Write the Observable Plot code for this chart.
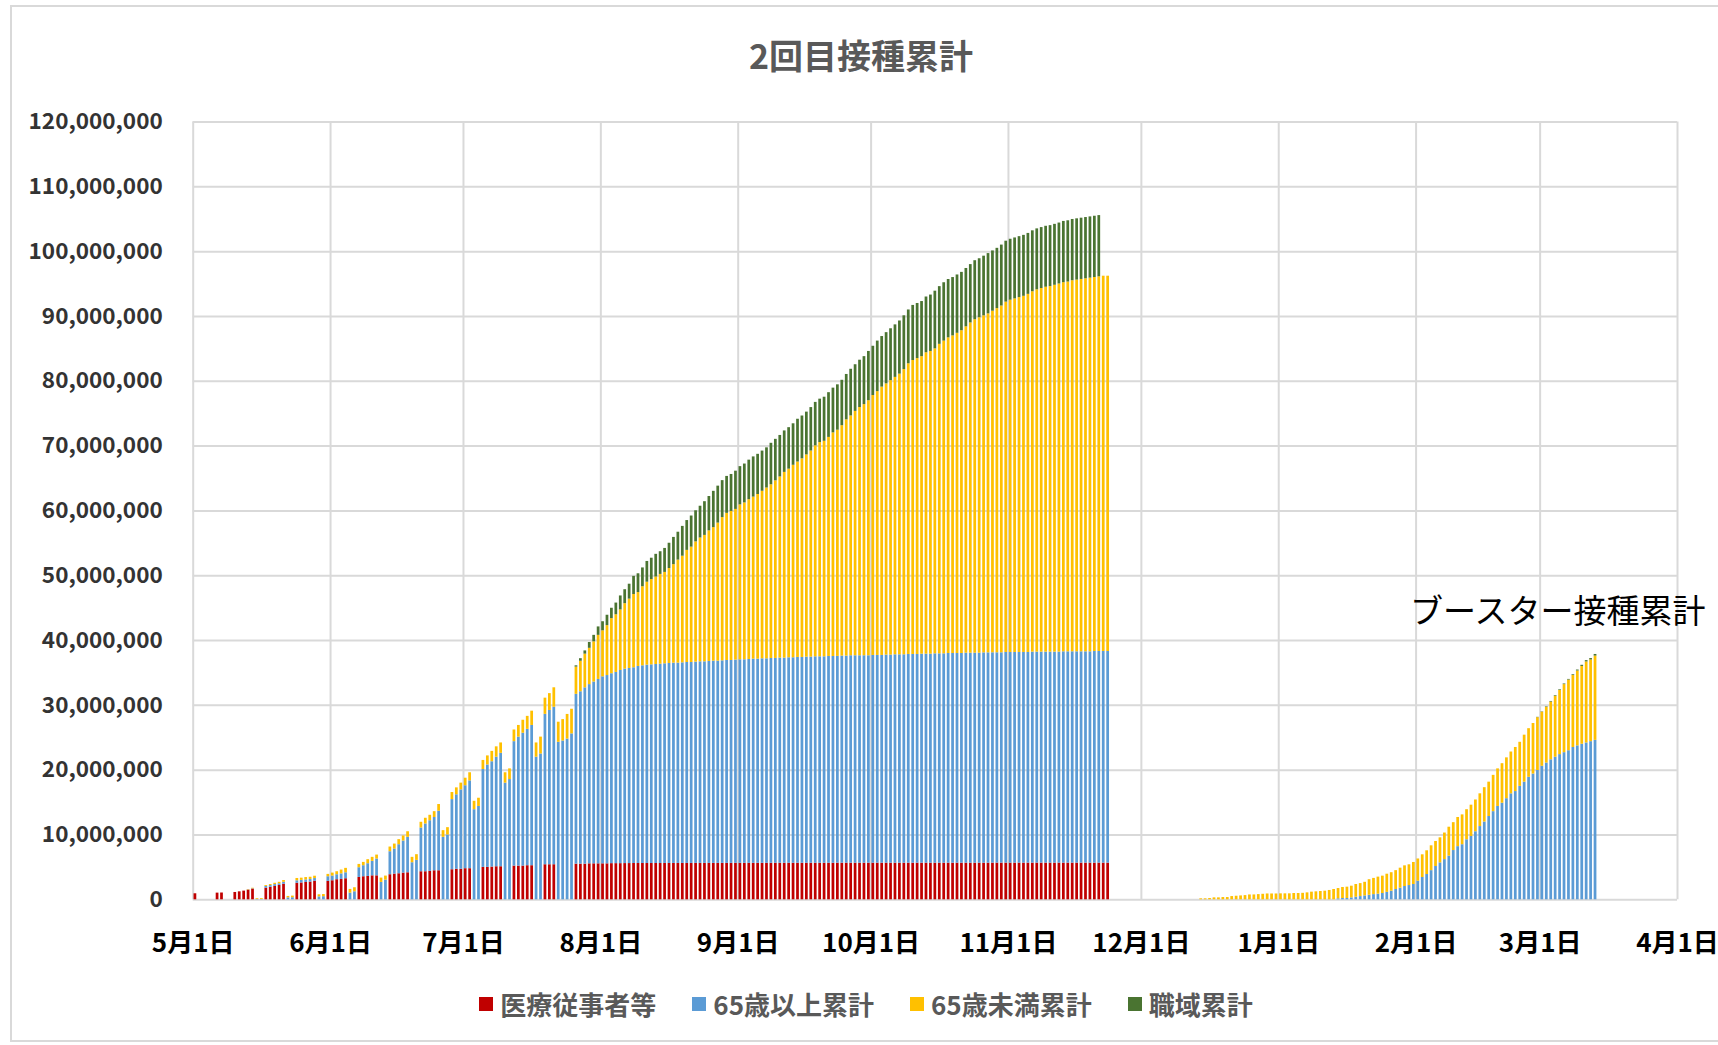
<!DOCTYPE html>
<html>
<head>
<meta charset="utf-8">
<script src="https://cdn.jsdelivr.net/npm/d3@7"></script>
<script src="https://cdn.jsdelivr.net/npm/@observablehq/plot@0.6"></script>
<style>
  html, body { margin: 0; padding: 0; background: #fff; }
  body { font-family: "Noto Sans CJK JP", "Noto Sans", sans-serif; }
  #wrap { position: relative; width: 1718px; height: 1045px; overflow: hidden; }
  #frame { position: absolute; left: 10px; top: 5px; width: 1740px; height: 1037px; border: 2px solid #d9d9d9; box-sizing: border-box; pointer-events: none; }
  #title { position: relative; height: 64px; padding-top: 36px; line-height: 38px; text-align: center; font-size: 34px; font-weight: bold; color: #595959; padding-left: 4px; }
  #chart { position: relative; height: 870px; }
  #legend { position: relative; height: 75px; padding-top: 22px; box-sizing: border-box; display: flex; justify-content: center; align-items: flex-start; gap: 36px; font-size: 26px; font-weight: bold; color: #595959; line-height: 24px; padding-left: 14px; }
  .item { display: flex; align-items: center; gap: 7px; height: 24px; }
  .sw { width: 14px; height: 14px; display: inline-block; }
  #chart svg [aria-label^="x-axis"] text { font-size: 26px; font-weight: bold; fill: #000; font-family: "Noto Sans CJK JP", sans-serif; }
  #chart svg [aria-label^="y-axis"] text { font-size: 22.5px; font-weight: bold; fill: #333; font-family: "Noto Sans CJK JP", sans-serif; }
</style>
</head>
<body>
<div id="wrap">
  <div id="frame"></div>
  <div id="title">2回目接種累計</div>
  <div id="chart"></div>
  <div id="legend"></div>
</div>
<script>
// ---- Data (values in millions of people) ----
const seriesNames = ["医療従事者等", "65歳以上累計", "65歳未満累計", "職域累計"];
const seriesColors = ["#C00000", "#5B9BD5", "#FFC000", "#4A7431"];

// 2nd dose, one entry per day starting 2021-05-01 (null = no bar)
const secondStart = "2021-05-01";
const med2 = [
  0.93, null, null, null, null, 1.03, 1.05, null, null, 1.13,
  1.23, 1.34, 1.49, 1.65, 0, 0, 1.8, 1.93, 2.06, 2.22,
  2.4, 0, 0, 2.55, 2.6, 2.67, 2.73, 2.86, 0, 0,
  2.84, 2.94, 3.1, 3.14, 3.25, 0, 0, 3.45, 3.56, 3.6,
  3.7, 3.7, 0, 0, 3.87, 3.97, 4.02, 4.12, 4.17, 0,
  0, 4.33, 4.33, 4.38, 4.48, 4.48, 0, 0, 4.64, 4.7,
  4.7, 4.8, 4.8, 0, 0, 5.0, 5.0, 5.05, 5.1, 5.1,
  0, 0, 5.2, 5.2, 5.2, 5.26, 5.26, 0, 0, 5.41,
  5.41, 5.41, 0, 0, 0, 0, 5.5, 5.5, 5.5, 5.55,
  5.55, 5.55, 5.55, 5.55, 5.58, 5.58, 5.58, 5.59, 5.59, 5.6,
  5.6, 5.6, 5.6, 5.6, 5.6, 5.6, 5.61, 5.61, 5.61, 5.61,
  5.61, 5.61, 5.61, 5.62, 5.62, 5.62, 5.62, 5.62, 5.62, 5.62,
  5.62, 5.62, 5.63, 5.63, 5.63, 5.63, 5.63, 5.63, 5.63, 5.63,
  5.63, 5.64, 5.64, 5.64, 5.64, 5.64, 5.64, 5.64, 5.64, 5.64,
  5.64, 5.64, 5.64, 5.64, 5.64, 5.65, 5.65, 5.65, 5.65, 5.65,
  5.65, 5.65, 5.65, 5.65, 5.65, 5.65, 5.65, 5.65, 5.65, 5.65,
  5.65, 5.65, 5.65, 5.65, 5.65, 5.65, 5.65, 5.65, 5.65, 5.65,
  5.65, 5.65, 5.65, 5.65, 5.65, 5.65, 5.65, 5.65, 5.65, 5.65,
  5.66, 5.66, 5.66, 5.66, 5.66, 5.66, 5.66, 5.66, 5.66, 5.66,
  5.66, 5.66, 5.66, 5.66, 5.66, 5.66, 5.66, 5.66, 5.66, 5.66,
  5.66, 5.66, 5.66, 5.66, 5.66, 5.66, 5.66
];
const over65_2 = [
  0, null, null, null, null, 0, 0, null, null, 0,
  0, 0, 0.03, 0.05, 0.06, 0.07, 0.26, 0.27, 0.29, 0.26,
  0.3, 0.3, 0.32, 0.38, 0.4, 0.4, 0.4, 0.42, 0.45, 0.48,
  0.72, 0.72, 0.77, 0.86, 0.92, 1.03, 1.24, 1.5, 1.7, 1.97,
  2.23, 2.59, 2.68, 3.04, 3.55, 3.87, 4.48, 4.95, 5.47, 5.72,
  6.08, 6.75, 7.37, 7.82, 8.22, 9.18, 9.64, 10.0, 10.82, 11.5,
  12.26, 12.8, 13.55, 13.9, 14.4, 15.1, 15.8, 16.25, 16.9, 17.5,
  18.0, 18.55, 19.2, 19.9, 20.5, 21.04, 21.64, 22.0, 22.5, 23.2,
  23.8, 24.3, 24.3, 24.5, 24.8, 25.6, 26.2, 26.6, 27.2, 27.65,
  28.05, 28.45, 28.85, 29.05, 29.3, 29.5, 29.8, 30.0, 30.1, 30.2,
  30.4, 30.5, 30.6, 30.65, 30.7, 30.75, 30.8, 30.85, 30.9, 30.9,
  30.95, 31.0, 31.0, 31.05, 31.1, 31.1, 31.15, 31.2, 31.2, 31.25,
  31.3, 31.3, 31.35, 31.4, 31.4, 31.45, 31.5, 31.5, 31.55, 31.55,
  31.6, 31.6, 31.65, 31.65, 31.7, 31.7, 31.75, 31.75, 31.8, 31.8,
  31.85, 31.85, 31.85, 31.9, 31.9, 31.9, 31.95, 31.95, 32.0, 32.0,
  32.0, 32.0, 32.0, 32.05, 32.05, 32.05, 32.1, 32.1, 32.15, 32.15,
  32.15, 32.2, 32.2, 32.2, 32.25, 32.25, 32.25, 32.3, 32.3, 32.3,
  32.35, 32.35, 32.35, 32.35, 32.4, 32.4, 32.4, 32.4, 32.45, 32.45,
  32.45, 32.45, 32.45, 32.5, 32.5, 32.5, 32.5, 32.5, 32.5, 32.55,
  32.55, 32.55, 32.55, 32.55, 32.55, 32.55, 32.6, 32.6, 32.6, 32.6,
  32.6, 32.6, 32.6, 32.65, 32.65, 32.65, 32.65
];
const under65_2 = [
  0, null, null, null, null, 0, 0, null, null, 0,
  0, 0, 0.05, 0.08, 0.12, 0.13, 0.14, 0.16, 0.2, 0.22,
  0.27, 0.22, 0.25, 0.36, 0.34, 0.36, 0.35, 0.36, 0.32, 0.33,
  0.36, 0.46, 0.46, 0.59, 0.68, 0.57, 0.62, 0.51, 0.51, 0.62,
  0.62, 0.61, 0.67, 0.62, 0.72, 0.76, 0.78, 0.78, 0.86, 0.83,
  0.88, 0.88, 0.88, 0.84, 0.9, 1.04, 1.03, 1.13, 1.09, 1.07,
  1.04, 1.16, 1.25, 1.3, 1.27, 1.4, 1.4, 1.6, 1.6, 1.6,
  1.6, 1.65, 1.8, 1.8, 2.0, 2.0, 2.2, 2.2, 2.6, 2.5,
  2.6, 3.0, 3.1, 3.3, 3.8, 3.8, 4.2, 4.7, 5.2, 5.6,
  6.2, 6.8, 7.1, 7.7, 8.5, 8.9, 9.35, 10.1, 10.7, 11.3,
  11.4, 12.2, 12.8, 13.15, 13.5, 13.85, 14.1, 14.65, 15.2, 15.9,
  16.45, 17.3, 17.8, 18.55, 19.1, 19.5, 20.15, 20.6, 21.3, 22.1,
  22.7, 23.0, 23.25, 23.9, 24.2, 24.65, 25.0, 25.4, 25.85, 26.35,
  26.8, 27.4, 27.95, 28.65, 29.1, 29.7, 30.15, 30.65, 31.2, 31.8,
  32.55, 33.05, 33.25, 33.8, 34.5, 34.9, 35.55, 36.45, 37.0, 37.7,
  38.3, 38.75, 39.35, 40.1, 40.7, 41.4, 41.85, 42.35, 42.8, 43.3,
  44.0, 44.85, 45.35, 45.65, 45.9, 46.5, 46.7, 47.05, 47.75, 48.25,
  48.7, 49.0, 49.4, 49.8, 50.35, 50.95, 51.45, 51.75, 52.0, 52.3,
  52.7, 53.1, 53.5, 54.05, 54.35, 54.55, 54.75, 54.95, 55.25, 55.6,
  55.9, 56.1, 56.3, 56.4, 56.6, 56.8, 56.95, 57.05, 57.25, 57.35,
  57.45, 57.55, 57.65, 57.7, 57.8, 57.9, 57.9
];
const work2 = [
  0, null, null, null, null, 0, 0, null, null, 0,
  0, 0, 0, 0, 0, 0, 0, 0, 0, 0,
  0, 0, 0, 0, 0, 0, 0, 0, 0, 0,
  0, 0, 0, 0, 0, 0, 0, 0, 0, 0,
  0, 0, 0, 0, 0, 0, 0, 0, 0, 0,
  0, 0, 0, 0, 0, 0, 0, 0, 0, 0,
  0, 0, 0, 0, 0, 0, 0, 0, 0, 0,
  0, 0, 0, 0, 0, 0, 0, 0, 0, 0,
  0, 0, 0, 0, 0, 0, 0.2, 0.4, 0.5, 0.9,
  1.0, 1.3, 1.4, 1.6, 1.6, 1.8, 2.15, 2.15, 2.3, 2.8,
  2.9, 2.9, 3.2, 3.3, 3.5, 3.5, 3.7, 3.9, 4.2, 4.3,
  4.6, 4.6, 4.8, 4.8, 4.9, 5.2, 5.3, 5.6, 5.7, 5.7,
  5.7, 5.7, 5.9, 5.9, 6.0, 6.1, 6.2, 6.2, 6.2, 6.2,
  6.4, 6.4, 6.4, 6.4, 6.4, 6.4, 6.6, 6.6, 6.6, 6.7,
  6.7, 6.7, 6.8, 6.9, 6.9, 7.0, 7.0, 7.0, 7.2, 7.2,
  7.3, 7.4, 7.6, 7.6, 7.8, 7.8, 7.9, 8.0, 8.1, 8.2,
  8.3, 8.3, 8.5, 8.5, 8.5, 8.6, 8.7, 8.9, 8.9, 9.0,
  9.0, 9.0, 9.0, 9.0, 9.0, 9.0, 9.1, 9.1, 9.2, 9.3,
  9.3, 9.3, 9.4, 9.4, 9.4, 9.4, 9.4, 9.4, 9.4, 9.4,
  9.4, 9.4, 9.4, 9.4, 9.4, 9.4, 9.45, 9.45, 9.45, 9.45,
  9.45, 9.45, 9.45, 9.45, 9.45, 0, 0
];

// Booster, one entry per day starting 2021-12-14
const boosterStart = "2021-12-14";
const med_b = [
  null, null, null, null, null, null, null, null, null, null,
  null, null, null, null, null, null, null, null, null, null,
  null, null, null, null, null, null, null, null, null, null,
  null, null, null, null, null, null, null, null, null, null,
  null, null, null, null, null, null, null, null, null, null,
  null, null, null, null, null, null, null, null, null, null,
  null, null, null, null, null, null, null, null, null, null,
  null, null, null, null, null, null, null, null, null, null,
  null, null, null, null, null, null, null, null, null, null
];
const over65_b = [
  0, 0, 0, 0, 0, 0, 0, 0, 0, 0,
  0, 0, 0, 0, 0, 0, 0, 0, 0, 0,
  0, 0, 0, 0, 0, 0, 0, 0, 0, 0,
  0, 0.15, 0.2, 0.2, 0.3, 0.4, 0.5, 0.6, 0.7, 0.8,
  0.87, 0.97, 1.15, 1.33, 1.59, 1.8, 2.05, 2.2, 2.36, 2.87,
  3.44, 3.9, 4.5, 5.14, 5.7, 6.2, 6.74, 7.6, 8.2, 8.5,
  9.26, 9.77, 10.5, 11.3, 12.0, 12.85, 13.6, 14.4, 14.9, 15.6,
  16.35, 16.7, 17.5, 18.15, 18.9, 19.4, 19.95, 20.6, 21.1, 21.6,
  22.0, 22.4, 22.7, 23.0, 23.5, 23.75, 24.0, 24.2, 24.4, 24.6
];
const under65_b = [
  0.15, 0.15, 0.2, 0.3, 0.3, 0.35, 0.35, 0.5, 0.55, 0.6,
  0.65, 0.75, 0.75, 0.8, 0.85, 0.9, 0.9, 0.9, 0.92, 0.92,
  0.92, 0.97, 0.97, 1.0, 1.07, 1.18, 1.23, 1.28, 1.33, 1.44,
  1.59, 1.59, 1.7, 1.75, 1.8, 1.96, 2.0, 2.1, 2.4, 2.5,
  2.63, 2.68, 2.8, 2.85, 2.91, 3.08, 3.19, 3.2, 3.4, 3.43,
  3.5, 3.66, 3.83, 3.86, 3.86, 4.1, 4.46, 4.3, 4.5, 4.6,
  4.64, 4.83, 4.9, 5.05, 5.3, 5.3, 5.6, 5.8, 6.1, 6.3,
  6.45, 6.8, 6.8, 7.25, 7.5, 7.8, 8.15, 8.35, 8.6, 8.9,
  9.4, 9.9, 10.5, 10.9, 11.1, 11.55, 12.0, 12.5, 12.6, 13.0
];
const work_b = [
  0, 0, 0, 0, 0, 0, 0, 0, 0, 0,
  0, 0, 0, 0, 0, 0, 0, 0, 0, 0,
  0, 0, 0, 0, 0, 0, 0, 0, 0, 0,
  0, 0, 0, 0, 0, 0, 0, 0, 0, 0,
  0, 0, 0, 0, 0, 0, 0, 0, 0, 0,
  0, 0, 0, 0, 0, 0, 0, 0, 0, 0,
  0, 0, 0, 0, 0, 0, 0, 0, 0, 0,
  0, 0, 0, 0, 0, 0, 0.05, 0.05, 0.08, 0.1,
  0.1, 0.1, 0.1, 0.1, 0.12, 0.15, 0.18, 0.2, 0.22, 0.25
];

const yTicks = [0, 10, 20, 30, 40, 50, 60, 70, 80, 90, 100, 110, 120];
const xTickLabels = ["2021-05-01","2021-06-01","2021-07-01","2021-08-01","2021-09-01","2021-10-01",
  "2021-11-01","2021-12-01","2022-01-01","2022-02-01","2022-03-01","2022-04-01"];
const boosterLabel = "ブースター接種累計";

// ---- Build long table ----
const DAY = 864e5;
const rows = [];
function addSegment(startStr, arrays) {
  const t0 = Date.parse(startStr + "T00:00:00Z");
  arrays[1].forEach((_, i) => {
    arrays.forEach((arr, k) => {
      const v = arr[i];
      if (v == null) return;
      rows.push({x1: new Date(t0 + i * DAY), x2: new Date(t0 + (i + 1) * DAY), series: seriesNames[k], value: v});
    });
  });
}
addSegment(secondStart, [med2, over65_2, under65_2, work2]);
addSegment(boosterStart, [med_b, over65_b, under65_b, work_b]);

const xTicks = xTickLabels.map(s => new Date(s + "T00:00:00Z"));

const chart = Plot.plot({
  width: 1718,
  height: 870,
  marginLeft: 192.7,
  marginRight: 41,
  marginTop: 21.5,
  marginBottom: 70.7,
  style: {background: "transparent", overflow: "visible"},
  x: {type: "utc", domain: [xTicks[0], xTicks[xTicks.length - 1]], ticks: xTicks, tickSize: 0, tickPadding: 34,
      tickFormat: d => `${d.getUTCMonth() + 1}月${d.getUTCDate()}日`, label: null},
  y: {domain: [0, 120], ticks: yTicks, tickSize: 0, tickPadding: 30.5,
      tickFormat: d => d3.format(",")(d * 1e6), label: null},
  color: {domain: seriesNames, range: seriesColors},
  marks: [
    Plot.ruleY(yTicks, {stroke: "#d9d9d9", strokeWidth: 2}),
    Plot.ruleX(xTicks, {stroke: "#d9d9d9", strokeWidth: 2}),
    Plot.rectY(rows, Plot.stackY({x1: "x1", x2: "x2", y: "value", fill: "series", insetLeft: 0.85, insetRight: 0.85})),
    Plot.text([boosterLabel], {x: () => xTicks[9], y: () => 44.4, text: d => d, textAnchor: "start",
      fontSize: 33, fill: "#000", fontFamily: "Noto Sans CJK JP", dx: -6})
  ]
});
document.getElementById("chart").appendChild(chart);

// ---- Legend ----
const legend = document.getElementById("legend");
seriesNames.forEach((n, i) => {
  const it = document.createElement("div");
  it.className = "item";
  it.innerHTML = `<span class="sw" style="background:${seriesColors[i]}"></span><span>${n}</span>`;
  legend.appendChild(it);
});
</script>
</body>
</html>
